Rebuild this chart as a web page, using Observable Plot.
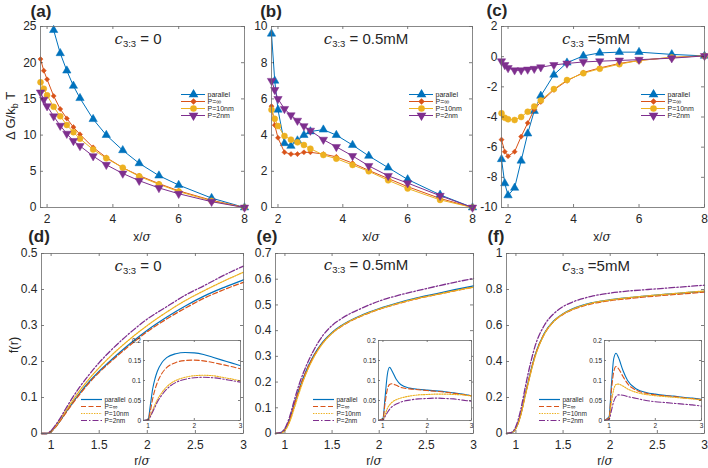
<!DOCTYPE html>
<html><head><meta charset="utf-8">
<script src="https://cdn.jsdelivr.net/npm/d3@7"></script>
<script src="https://cdn.jsdelivr.net/npm/@observablehq/plot@0.6"></script>
<style>
body{margin:0;background:#fff;}
#root{position:relative;width:708px;height:468px;overflow:hidden;font-family:"Liberation Sans",Arial,sans-serif;color:#262626;background:#fff;}
.abs{position:absolute;white-space:nowrap;transform:translate(-50%,-50%);line-height:1;}
.plab{font-weight:bold;font-size:17px;}
.ann{font-size:15px;}
.ann i,.xl i{font-family:"DejaVu Serif","Liberation Serif",serif;font-style:italic;}
.ann sub{font-size:9.5px;vertical-align:-3px;}
.xl{font-size:12px;}
.yl{font-size:13px;transform:translate(-50%,-50%) rotate(-90deg);}
.yl sub{font-size:9px;vertical-align:-3px;}
</style></head><body><div id="root"></div>
<script>
// ---------- data ----------
const series = ["parallel", "P=\u221E", "P=10nm", "P=2nm"];
const colors = ["#0072BD", "#D95319", "#EDB120", "#7E2F8E"];

// top row: x positions (x/sigma)
const xTop = [1.8, 1.9, 2.0, 2.2, 2.4, 2.6, 2.8, 3.0, 3.4, 3.8, 4.3, 4.8, 5.4, 6.0, 7.0, 8.0];
// (a) c = 0
const a_par = [null, null, null, 24.5, 21.3, 18.9, 16.8, 15.1, 12.2, 10.0, 7.9, 6.1, 4.4, 3.1, 1.3, 0];
const a_inf = [20.5, 18.9, 17.7, 15.4, 13.6, 12.3, 11.1, 10.1, 8.3, 6.9, 5.5, 4.4, 3.3, 2.3, 1.0, 0];
const a_p10 = [17.3, 16.4, 15.5, 13.9, 12.6, 11.4, 10.4, 9.5, 8.0, 6.8, 5.5, 4.3, 3.2, 2.2, 0.9, 0];
const a_p2  = [15.9, 14.9, 14.0, 12.6, 11.3, 10.2, 9.2, 8.5, 7.1, 5.9, 4.7, 3.7, 2.7, 1.9, 0.8, 0];
// (b) c = 0.5mM
const b_par = [9.6, 7.0, 5.4, 3.55, 3.4, 3.7, 4.0, 4.2, 4.3, 4.0, 3.45, 2.85, 2.2, 1.55, 0.7, 0];
const b_inf = [5.6, 4.55, 3.85, 3.05, 2.95, 2.95, 3.05, 3.05, 2.95, 2.8, 2.45, 2.05, 1.6, 1.15, 0.5, 0];
const b_p10 = [5.4, 4.9, 4.5, 3.95, 3.75, 3.6, 3.45, 3.25, 2.9, 2.7, 2.35, 2.0, 1.5, 1.05, 0.42, 0];
const b_p2  = [7.0, 6.5, 6.0, 5.45, 5.1, 4.8, 4.5, 4.25, 3.75, 3.35, 2.85, 2.3, 1.75, 1.35, 0.65, 0];
// (c) c = 5mM
const c_par = [-6.8, -8.4, -9.2, -8.7, -6.9, -5.1, -3.6, -2.6, -1.2, -0.4, 0.05, 0.25, 0.3, 0.3, 0.15, 0.05];
const c_inf = [-5.5, -6.3, -6.6, -6.3, -5.3, -4.4, -3.5, -3.0, -2.2, -1.6, -1.05, -0.75, -0.45, -0.25, -0.05, 0.05];
const c_p10 = [-3.75, -4.05, -4.15, -4.2, -4.0, -3.65, -3.3, -2.9, -2.15, -1.55, -1.1, -0.8, -0.5, -0.25, -0.05, 0.05];
const c_p2  = [-0.3, -0.55, -0.75, -0.9, -0.9, -0.85, -0.8, -0.7, -0.55, -0.45, -0.35, -0.3, -0.25, -0.2, -0.1, 0.05];

// bottom row: r/sigma samples
const rMain = [0.9, 0.95, 1.0, 1.05, 1.1, 1.15, 1.2, 1.3, 1.4, 1.5, 1.6, 1.8, 2.0, 2.2, 2.4, 2.6, 2.8, 3.0];
// (d)
const d_par = [0, 0, 0.005, 0.02, 0.038, 0.058, 0.077, 0.113, 0.145, 0.173, 0.198, 0.245, 0.287, 0.323, 0.355, 0.383, 0.406, 0.427];
const d_inf = [0, 0, 0.005, 0.019, 0.037, 0.056, 0.075, 0.11, 0.142, 0.17, 0.195, 0.241, 0.283, 0.318, 0.349, 0.377, 0.4, 0.42];
const d_p10 = [0, 0, 0.006, 0.022, 0.041, 0.062, 0.082, 0.12, 0.153, 0.183, 0.21, 0.258, 0.3, 0.337, 0.37, 0.398, 0.424, 0.448];
const d_p2  = [0, 0, 0.008, 0.025, 0.045, 0.068, 0.09, 0.13, 0.165, 0.197, 0.225, 0.275, 0.318, 0.352, 0.385, 0.412, 0.44, 0.465];
// (e)
const e_par = [0, 0.002, 0.016, 0.055, 0.115, 0.172, 0.222, 0.3, 0.355, 0.393, 0.42, 0.458, 0.486, 0.508, 0.527, 0.543, 0.559, 0.574];
const e_inf = [0, 0.002, 0.015, 0.053, 0.112, 0.169, 0.219, 0.297, 0.352, 0.39, 0.417, 0.455, 0.483, 0.505, 0.524, 0.54, 0.555, 0.57];
const e_p10 = [0, 0.001, 0.012, 0.045, 0.1, 0.158, 0.21, 0.292, 0.35, 0.39, 0.418, 0.456, 0.484, 0.506, 0.525, 0.54, 0.555, 0.569];
const e_p2  = [0, 0.003, 0.02, 0.065, 0.13, 0.19, 0.24, 0.32, 0.38, 0.42, 0.447, 0.485, 0.515, 0.537, 0.555, 0.572, 0.588, 0.603];
// (f)
const f_par = [0, 0.004, 0.03, 0.105, 0.22, 0.33, 0.43, 0.555, 0.625, 0.665, 0.692, 0.725, 0.743, 0.755, 0.765, 0.774, 0.782, 0.79];
const f_inf = [0, 0.004, 0.029, 0.103, 0.217, 0.327, 0.427, 0.552, 0.622, 0.662, 0.688, 0.72, 0.738, 0.75, 0.76, 0.769, 0.777, 0.786];
const f_p10 = [0, 0.004, 0.028, 0.1, 0.212, 0.322, 0.42, 0.55, 0.622, 0.664, 0.69, 0.724, 0.742, 0.755, 0.765, 0.774, 0.783, 0.792];
const f_p2  = [0, 0.005, 0.04, 0.13, 0.26, 0.38, 0.48, 0.6, 0.665, 0.705, 0.73, 0.762, 0.78, 0.792, 0.8, 0.808, 0.816, 0.824];

// insets
const rIns = [0.9, 1.0, 1.05, 1.1, 1.15, 1.2, 1.3, 1.4, 1.6, 1.8, 2.0, 2.2, 2.4, 2.6, 2.8, 3.0];
const di_par = [0, 0.003, 0.04, 0.08, 0.105, 0.123, 0.145, 0.157, 0.167, 0.17, 0.169, 0.165, 0.158, 0.151, 0.144, 0.137];
const di_inf = [0, 0.002, 0.025, 0.055, 0.078, 0.095, 0.118, 0.132, 0.145, 0.15, 0.151, 0.149, 0.145, 0.14, 0.135, 0.129];
const di_p10 = [0, 0.001, 0.012, 0.026, 0.04, 0.052, 0.07, 0.084, 0.1, 0.108, 0.112, 0.113, 0.112, 0.108, 0.104, 0.099];
const di_p2  = [0, 0.001, 0.01, 0.022, 0.034, 0.046, 0.064, 0.078, 0.095, 0.103, 0.107, 0.108, 0.107, 0.104, 0.1, 0.096];
const ei_par = [0, 0.005, 0.06, 0.115, 0.133, 0.125, 0.103, 0.09, 0.081, 0.078, 0.076, 0.074, 0.072, 0.069, 0.066, 0.062];
const ei_inf = [0, 0.004, 0.045, 0.078, 0.09, 0.092, 0.088, 0.083, 0.079, 0.077, 0.075, 0.073, 0.071, 0.068, 0.065, 0.062];
const ei_p10 = [0, 0.002, 0.015, 0.03, 0.039, 0.045, 0.052, 0.056, 0.061, 0.064, 0.065, 0.066, 0.066, 0.065, 0.064, 0.061];
const ei_p2  = [0, 0.001, 0.01, 0.02, 0.028, 0.034, 0.041, 0.046, 0.051, 0.054, 0.055, 0.056, 0.055, 0.054, 0.051, 0.048];
const fi_par = [0, 0.01, 0.09, 0.155, 0.168, 0.158, 0.125, 0.1, 0.078, 0.07, 0.066, 0.063, 0.061, 0.058, 0.056, 0.053];
const fi_inf = [0, 0.008, 0.075, 0.122, 0.135, 0.13, 0.11, 0.092, 0.075, 0.068, 0.064, 0.062, 0.06, 0.057, 0.055, 0.052];
const fi_p10 = [0, 0.005, 0.045, 0.078, 0.09, 0.091, 0.086, 0.079, 0.07, 0.065, 0.062, 0.06, 0.058, 0.056, 0.054, 0.051];
const fi_p2  = [0, 0.003, 0.025, 0.048, 0.06, 0.064, 0.063, 0.06, 0.055, 0.05, 0.047, 0.045, 0.043, 0.041, 0.039, 0.036];

// ticks
const xTicksTop = [2, 4, 6, 8];
const yTicksA = [0, 5, 10, 15, 20, 25];
const yTicksB = [0, 2, 4, 6, 8, 10];
const yTicksC = [-10, -8, -6, -4, -2, 0, 2];
const xTicksBot = [1, 1.5, 2, 2.5, 3];
const yTicksD = [0, 0.1, 0.2, 0.3, 0.4, 0.5];
const yTicksE = [0, 0.1, 0.2, 0.3, 0.4, 0.5, 0.6, 0.7];
const yTicksF = [0, 0.2, 0.4, 0.6, 0.8, 1];
const xTicksIns = [1, 2, 3];
const yTicksIns = [0, 0.05, 0.1, 0.15, 0.2];

// ---------- styling ----------
const FONT = '"Liberation Sans", Arial, Helvetica, sans-serif';
const axisColor = "#262626";
const frameColor = "#6b6b6b";
const symbols = [["triangle", 3.1, 0], ["diamond2", 2.3, 0], ["circle", 3.0, 0], ["triangle", 3.1, 180]];
const dashes = [null, "5,2.5", "1.4,1.2", "6,2,1.5,2"];
const root = document.getElementById("root");

function place(el, left, top) {
  el.style.position = "absolute";
  el.style.left = left + "px";
  el.style.top = top + "px";
  root.appendChild(el);
}

function axesPlot({box, xDomain, yDomain, xTicks, yTicks, marks, fs, tickLen, padX, padY, mL, mB, bg}) {
  const [x0, y0, x1, y1] = box;
  const W = x1 - x0, H = y1 - y0, mT = 8, mR = 8;
  const tk = {stroke: axisColor, strokeWidth: 0.6};
  const svg = Plot.plot({
    width: W + mL + mR, height: H + mT + mB,
    marginLeft: mL, marginRight: mR, marginTop: mT, marginBottom: mB,
    x: {domain: xDomain, ticks: xTicks, tickSize: 0, tickPadding: padX, tickFormat: d => String(d), label: null},
    y: {domain: yDomain, ticks: yTicks, tickSize: 0, tickPadding: padY, tickFormat: d => String(d), label: null},
    style: {fontSize: fs + "px", fontFamily: FONT, color: axisColor, background: "transparent", overflow: "visible"},
    marks: [
      bg ? Plot.frame({fill: "white"}) : null,
      ...marks,
      Plot.ruleX(xTicks, {x: d => d, insetTop: H - tickLen, ...tk}),
      Plot.ruleX(xTicks, {x: d => d, insetBottom: H - tickLen, ...tk}),
      Plot.ruleY(yTicks, {y: d => d, insetRight: W - tickLen, ...tk}),
      Plot.ruleY(yTicks, {y: d => d, insetLeft: W - tickLen, ...tk}),
      Plot.frame({stroke: frameColor, strokeWidth: 0.8})
    ]
  });
  place(svg, x0 - mL, y0 - mT);
}

function topMarks(xs, arrays) {
  return arrays.flatMap((vals, i) => {
    const data = xs.map((x, j) => ({x, y: vals[j]})).filter(d => d.y != null);
    const [sym, r, rot] = symbols[i];
    return [
      Plot.line(data, {x: "x", y: "y", stroke: colors[i], strokeWidth: 1}),
      Plot.dot(data, {x: "x", y: "y", symbol: sym, r, rotate: rot, fill: colors[i], stroke: colors[i], strokeWidth: 0.5})
    ];
  });
}
function curveMarks(xs, arrays, sw) {
  return arrays.map((vals, i) => {
    const data = xs.map((x, j) => ({x, y: vals[j]}));
    return Plot.line(data, {x: "x", y: "y", stroke: colors[i], strokeWidth: sw, strokeDasharray: dashes[i], curve: "monotone-x"});
  });
}

function legend(left, top, withMarkers, fs, len, gap) {
  const svg = Plot.plot({
    width: 80, height: gap * 3 + 10, margin: 0,
    x: {domain: [0, 1], range: [0, len], axis: null},
    y: {type: "point", domain: series, range: [5, 5 + gap * 3], axis: null},
    style: {fontSize: fs + "px", fontFamily: FONT, background: "transparent", overflow: "visible"},
    marks: series.flatMap((s, i) => {
      const [sym, r, rot] = symbols[i];
      return [
        Plot.ruleY([s], {y: d => d, x1: 0, x2: 1, stroke: colors[i], strokeWidth: withMarkers ? 1 : 1.2, strokeDasharray: withMarkers ? null : dashes[i]}),
        withMarkers ? Plot.dot([s], {x: 0.5, y: d => d, symbol: sym, r: r * 0.85, rotate: rot, fill: colors[i], stroke: colors[i]}) : null,
        Plot.text([s], {x: 1, y: d => d, dx: 2, text: d => d, textAnchor: "start", fill: axisColor})
      ];
    })
  });
  place(svg, left, top);
}

function label(html, cls, cx, cy) {
  const d = document.createElement("div");
  d.className = "abs " + cls;
  d.innerHTML = html;
  d.style.left = cx + "px";
  d.style.top = cy + "px";
  root.appendChild(d);
}

// ---------- panels ----------
const TOP = [26, 207], BOT = [253, 433];
const boxes = {
  a: [40, TOP[0], 244, TOP[1]], b: [271, TOP[0], 472, TOP[1]], c: [501, TOP[0], 704, TOP[1]],
  d: [41, BOT[0], 243, BOT[1]], e: [275, BOT[0], 473, BOT[1]], f: [506, BOT[0], 704, BOT[1]]
};
const topCommon = {xDomain: [1.8, 8], xTicks: xTicksTop, fs: 12, tickLen: 3, padX: 7, padY: 4, mL: 40, mB: 24};
axesPlot({...topCommon, box: boxes.a, yDomain: [0, 25], yTicks: yTicksA, marks: topMarks(xTop, [a_par, a_inf, a_p10, a_p2])});
axesPlot({...topCommon, box: boxes.b, yDomain: [0, 10], yTicks: yTicksB, marks: topMarks(xTop, [b_par, b_inf, b_p10, b_p2])});
axesPlot({...topCommon, box: boxes.c, yDomain: [-10, 2], yTicks: yTicksC, marks: topMarks(xTop, [c_par, c_inf, c_p10, c_p2])});

const botCommon = {xDomain: [0.9, 3], xTicks: xTicksBot, fs: 12, tickLen: 3, padX: 7, padY: 4, mL: 40, mB: 24};
axesPlot({...botCommon, box: boxes.d, yDomain: [0, 0.5], yTicks: yTicksD, marks: curveMarks(rMain, [d_par, d_inf, d_p10, d_p2], 1.3)});
axesPlot({...botCommon, box: boxes.e, yDomain: [0, 0.7], yTicks: yTicksE, marks: curveMarks(rMain, [e_par, e_inf, e_p10, e_p2], 1.3)});
axesPlot({...botCommon, box: boxes.f, yDomain: [0, 1], yTicks: yTicksF, marks: curveMarks(rMain, [f_par, f_inf, f_p10, f_p2], 1.3)});

// insets
const insCommon = {xDomain: [0.9, 3], yDomain: [0, 0.2], xTicks: xTicksIns, yTicks: yTicksIns, fs: 6.5, tickLen: 2, padX: 3, padY: 2.5, mL: 22, mB: 12, bg: true};
axesPlot({...insCommon, box: [143, 340, 240, 420], marks: curveMarks(rIns, [di_par, di_inf, di_p10, di_p2], 1.1)});
axesPlot({...insCommon, box: [378, 340, 471, 420], marks: curveMarks(rIns, [ei_par, ei_inf, ei_p10, ei_p2], 1.1)});
axesPlot({...insCommon, box: [604, 340, 701, 420], marks: curveMarks(rIns, [fi_par, fi_inf, fi_p10, fi_p2], 1.1)});

// legends
legend(181, 84, true, 7, 24, 10);
legend(409, 84, true, 7, 24, 10);
legend(641, 84, true, 7, 24, 10);
legend(81, 390, false, 6.5, 21, 9.5);
legend(313, 390, false, 6.5, 21, 9.5);
legend(539, 390, false, 6.5, 21, 9.5);

// text labels
label("(a)", "plab", 41, 11);
label("(b)", "plab", 271, 11);
label("(c)", "plab", 497, 10);
label("(d)", "plab", 39, 236);
label("(e)", "plab", 267, 236);
label("(f)", "plab", 496, 236);

label("<i>c</i><sub>3:3</sub> = 0", "ann", 138, 40);
label("<i>c</i><sub>3:3</sub> = 0.5mM", "ann", 366, 40);
label("<i>c</i><sub>3:3</sub> =5mM", "ann", 596, 40);
label("<i>c</i><sub>3:3</sub> = 0", "ann", 138, 267);
label("<i>c</i><sub>3:3</sub> = 0.5mM", "ann", 366, 266);
label("<i>c</i><sub>3:3</sub> =5mM", "ann", 596, 267);

label("x/<i>\u03C3</i>", "xl", 142, 237);
label("x/<i>\u03C3</i>", "xl", 371, 237);
label("x/<i>\u03C3</i>", "xl", 602, 237);
label("r/<i>\u03C3</i>", "xl", 142, 461);
label("r/<i>\u03C3</i>", "xl", 374, 461);
label("r/<i>\u03C3</i>", "xl", 605, 461);

label("\u0394 G/k<sub>b</sub> T", "yl", 12, 116);
label("f(r)", "yl", 13, 345);
</script></body></html>
